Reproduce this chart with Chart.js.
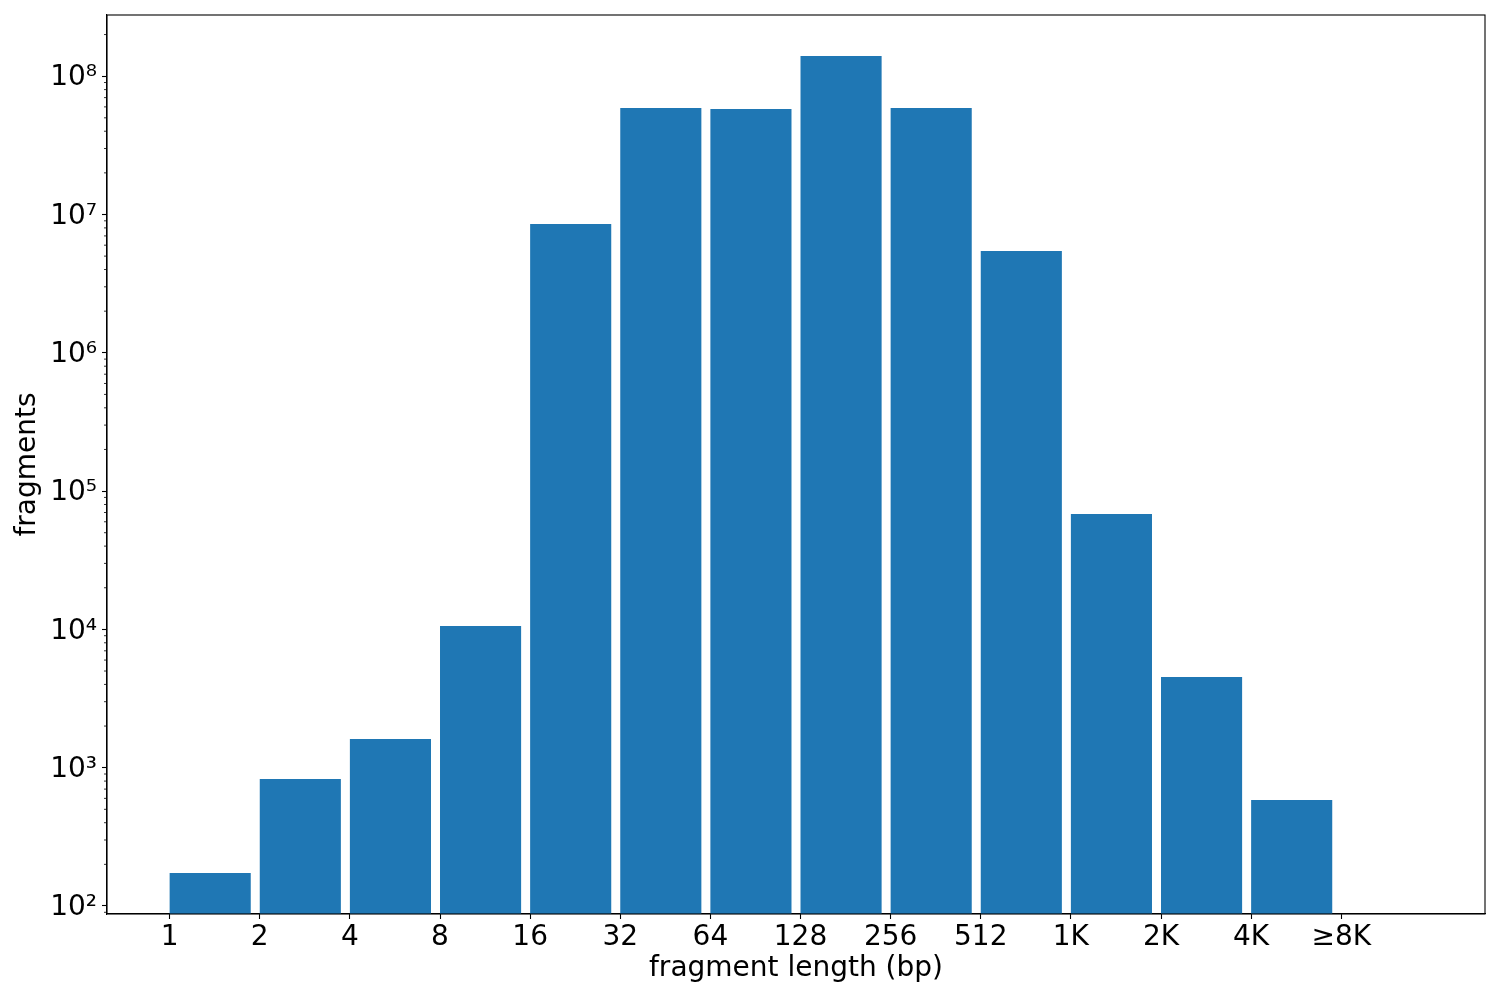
<!DOCTYPE html>
<html><head><meta charset="utf-8">
<script src="https://cdn.jsdelivr.net/npm/chart.js@4"></script>
<style>html,body{margin:0;padding:0;background:#fff}#wrap{width:1500px;height:1000px}</style>
</head><body><div id="wrap"><canvas id="c" width="1500" height="1000"></canvas></div>
<script>
const binLabels = ['1','2','4','8','16','32','64','128','256','512','1K','2K','4K','≥8K'];
const fragmentCounts = [173, 828, 1613, 10580, 8530000, 58900000, 58000000, 140000000, 58900000, 5450000, 68200, 4530, 584];
const yTickValues = [1e2, 1e3, 1e4, 1e5, 1e6, 1e7, 1e8];
const yTickLabels = ['10²','10³','10⁴','10⁵','10⁶','10⁷','10⁸'];
const minorMultipliers = [2,3,4,5,6,7,8,9];
const barFraction = 0.9;

Chart.defaults.font.family = "'DejaVu Sans', sans-serif";
Chart.defaults.font.size = 28;
Chart.defaults.color = '#000';

const framePlugin = {
  id: 'frame',
  afterDraw(chart) {
    const ctx = chart.ctx, a = chart.chartArea, ys = chart.scales.y;
    ctx.save();
    ctx.strokeStyle = '#000';
    ctx.lineWidth = 1.1;
    ctx.strokeRect(a.left, a.top, a.right - a.left, a.bottom - a.top);
    ctx.lineWidth = 0.8;
    for (let e = 1; e <= 8; e++) {
      for (const m of minorMultipliers) {
        const v = m * Math.pow(10, e);
        if (v < ys.min || v > ys.max) continue;
        const y = ys.getPixelForValue(v);
        ctx.beginPath();
        ctx.moveTo(a.left - 3, y);
        ctx.lineTo(a.left, y);
        ctx.stroke();
      }
    }
    ctx.restore();
  }
};

new Chart(document.getElementById('c'), {
  type: 'bar',
  data: {
    datasets: [{
      data: fragmentCounts.map((v, i) => ({ x: i + barFraction / 2, y: v })),
      backgroundColor: '#1f77b4',
      borderWidth: 0,
      categoryPercentage: 1,
      barPercentage: barFraction
    }]
  },
  options: {
    responsive: false,
    animation: false,
    devicePixelRatio: 1,
    layout: { padding: { top: 15, right: 15, left: 0, bottom: 0 } },
    plugins: { legend: { display: false }, tooltip: { enabled: false } },
    scales: {
      x: {
        type: 'linear', min: -0.695, max: 14.595, offset: false,
        grid: { drawOnChartArea: false, offset: false, drawTicks: true, tickLength: 5, tickWidth: 1.1, tickColor: '#000' },
        border: { display: true, color: '#000', width: 1.1 },
        afterBuildTicks: s => { s.ticks = binLabels.map((_, i) => ({ value: i })); },
        afterFit: s => { s.height = 86; s.paddingLeft = 0; s.paddingRight = 0; },
        ticks: { autoSkip: false, maxRotation: 0, minRotation: 0, padding: 2, color: '#000', font: { size: 28 },
          callback: (v, i) => binLabels[i] },
        title: { display: true, text: 'fragment length (bp)', color: '#000', font: { size: 28 }, padding: { top: 0, bottom: 14.7 } }
      },
      y: {
        type: 'logarithmic', min: 87.5, max: 2.77e8,
        grid: { drawOnChartArea: false, drawTicks: true, tickLength: 5, tickWidth: 1.1, tickColor: '#000' },
        border: { display: true, color: '#000', width: 1.1 },
        afterBuildTicks: s => { s.ticks = yTickValues.map(v => ({ value: v, major: true })); },
        afterFit: s => { s.width = 107; s.paddingTop = 0; s.paddingBottom = 0; },
        ticks: { autoSkip: false, padding: 5, labelOffset: 2, color: '#000', font: { size: 28 },
          callback: (v, i) => yTickLabels[i] },
        title: { display: true, text: 'fragments', color: '#000', font: { size: 28 }, padding: { top: 11, bottom: 0 } }
      }
    }
  },
  plugins: [framePlugin]
});
</script></body></html>
